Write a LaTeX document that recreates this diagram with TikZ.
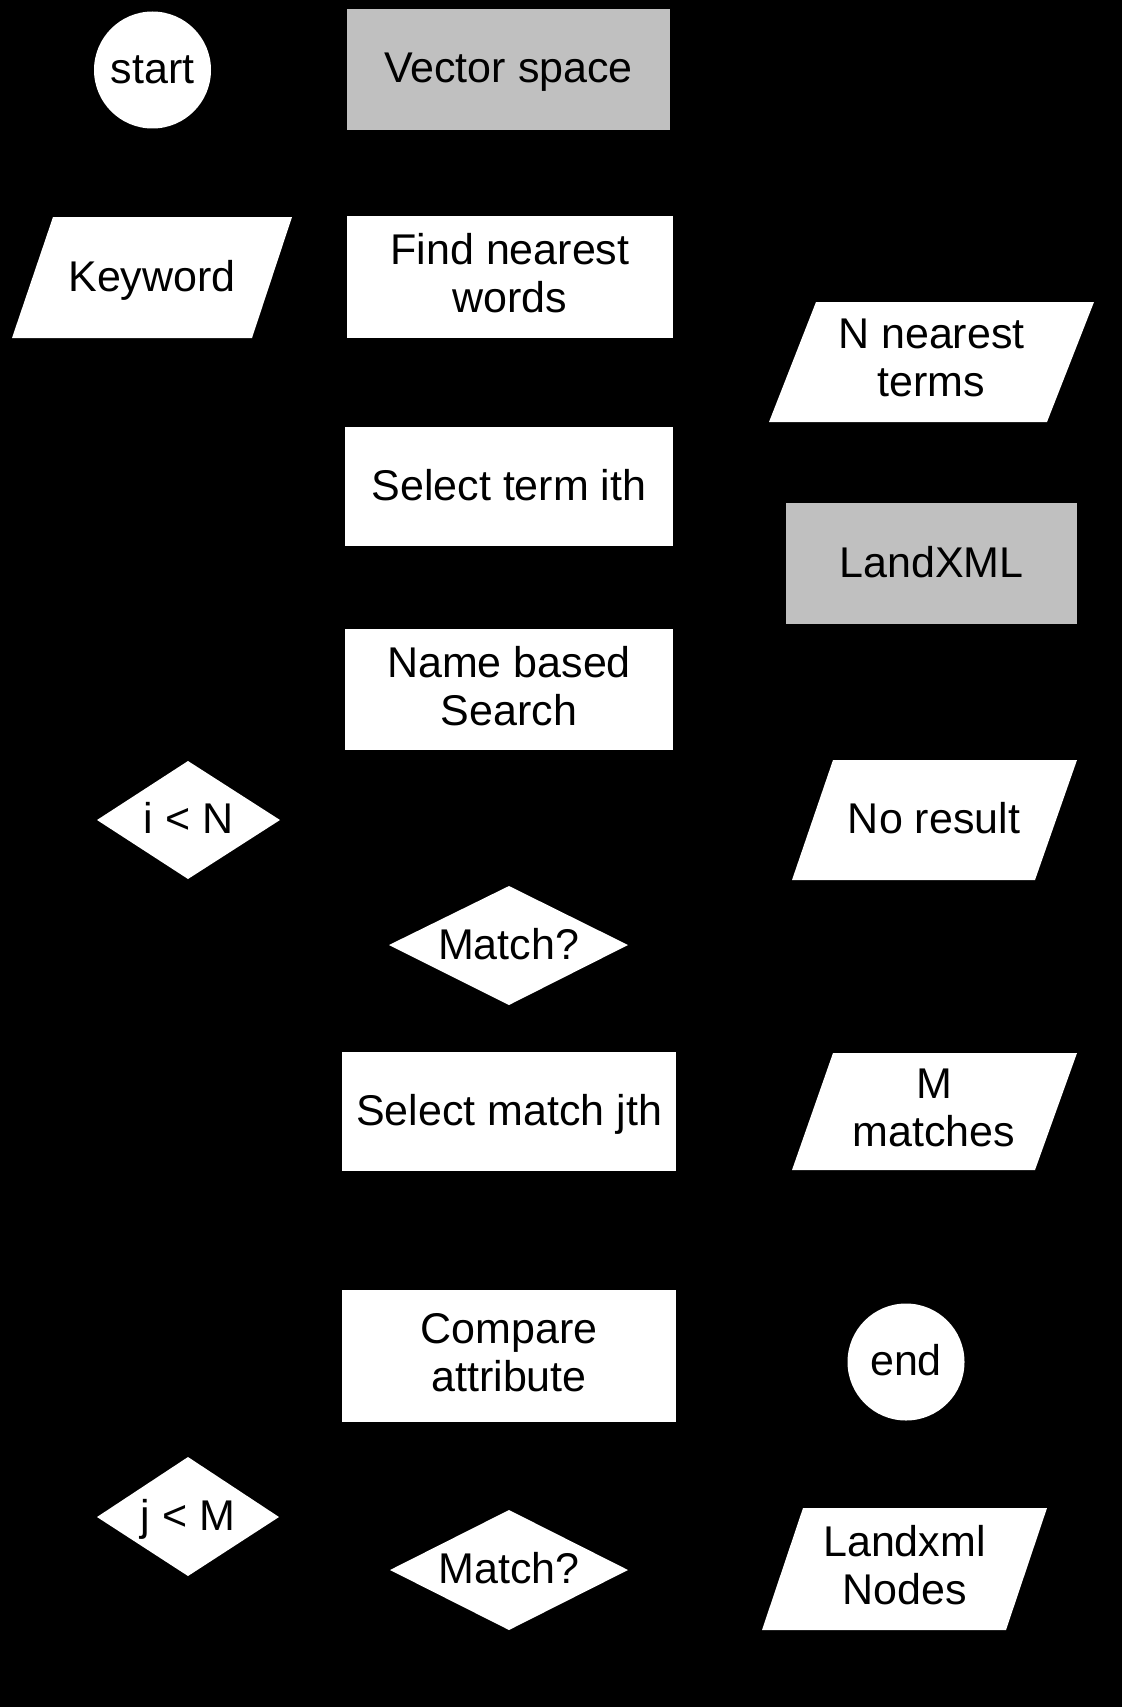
\documentclass[tikz,border=0pt]{standalone}
\usepackage{fontspec}
\setmainfont{Liberation Sans}
\definecolor{boxgray}{RGB}{192,192,192}
\begin{document}
\begin{tikzpicture}[x=1pt,y=-1pt,
  txt/.style={font=\fontsize{43}{48}\selectfont, align=center, inner sep=0pt, text=black},
  one/.style={txt, text height=31pt, text depth=0pt},
  two/.style={txt, text depth=0pt},
  wfill/.style={fill=white},
  gfill/.style={fill=boxgray}]
\fill[black] (0,0) rectangle (1122,1707);
\useasboundingbox (0,0) rectangle (1122,1707);
% shapes
\fill[wfill] (152.5,70) circle (58.5);
\fill[gfill] (347,9) rectangle (670,130);
\fill[wfill] (12,338) -- (53,217) -- (292,217) -- (252,338) -- cycle;
\fill[wfill] (347,216) rectangle (673,338);
\fill[wfill] (769,422) -- (816,302) -- (1094,302) -- (1047,422) -- cycle;
\fill[wfill] (345,427) rectangle (673,546);
\fill[gfill] (786,503) rectangle (1077,624);
\fill[wfill] (345,629) rectangle (673,750);
\fill[wfill] (97,820) -- (188,761) -- (280,820) -- (188,879) -- cycle;
\fill[wfill] (792,880) -- (833,760) -- (1077,760) -- (1035,880) -- cycle;
\fill[wfill] (389,945) -- (509,886) -- (628,945) -- (509,1005) -- cycle;
\fill[wfill] (342,1052) rectangle (676,1171);
\fill[wfill] (792,1170) -- (833,1053) -- (1077,1053) -- (1035,1170) -- cycle;
\fill[wfill] (342,1290) rectangle (676,1422);
\fill[wfill] (906,1362) circle (58.5);
\fill[wfill] (97,1517) -- (188,1457) -- (279,1517) -- (188,1576) -- cycle;
\fill[wfill] (390,1570) -- (509,1510) -- (628,1570) -- (509,1630) -- cycle;
\fill[wfill] (762,1630) -- (803,1508) -- (1047,1508) -- (1006,1630) -- cycle;
% texts
\node[one] (start) at (152.5,68) {start};
\node[one] (vector) at (508.5,67.5) {Vector space};
\node[one] (keyword) at (152,275.5) {Keyword};
\node[two] (find) at (510,273) {Find nearest\\words};
\node[two] (nterms) at (931.5,358) {N nearest\\terms};
\node[one] (selterm) at (509,484.5) {Select term ith};
\node[one] (landxml) at (931.5,561.5) {LandXML};
\node[two] (namesearch) at (509,686) {Name based\\Search};
\node[one] (iN) at (188.5,818) {i < N};
\node[one] (noresult) at (934,818) {No result};
\node[one] (match1) at (508.5,943.5) {Match?};
\node[one] (selmatch) at (509,1109.5) {Select match jth};
\node[two] (mmatches) at (934,1108) {M\\matches};
\node[two] (compare) at (509,1352) {Compare\\attribute};
\node[one] (end) at (906,1360) {end};
\node[one] (jM) at (188,1514.5) {j < M};
\node[one] (match2) at (509,1568) {Match?};
\node[two] (nodes) at (904.5,1565) {Landxml\\Nodes};
\end{tikzpicture}
\end{document}
